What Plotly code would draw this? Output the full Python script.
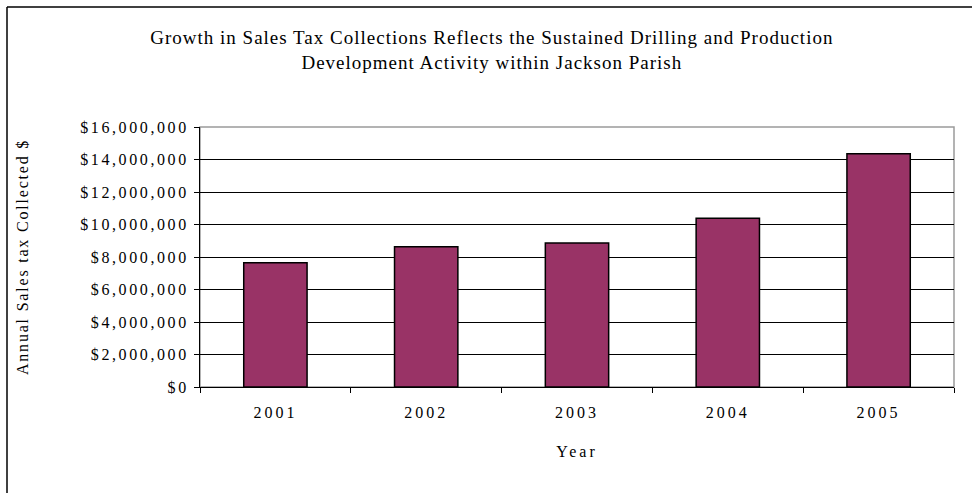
import plotly.graph_objects as go

years = ["2001", "2002", "2003", "2004", "2005"]
sales_tax = [7650000, 8630000, 8860000, 10380000, 14360000]
y_ticks = [0, 2000000, 4000000, 6000000, 8000000, 10000000, 12000000, 14000000, 16000000]

title_text = ("Growth in Sales Tax Collections Reflects the Sustained Drilling and Production"
              "<br>Development Activity within Jackson Parish")

W, H = 972, 493
L, R, T, B = 200, 18, 127, 106
pw, ph = W - L - R, H - T - B

def px_x(x):
    return (x - L) / pw

def px_y(y):
    return (H - B - y) / ph

FONT = "Liberation Serif, Times New Roman, serif"

fig = go.Figure(go.Bar(
    x=years, y=sales_tax,
    marker=dict(color="#993366", line=dict(color="#000000", width=1.5)),
    hovertemplate="%{x}: $%{y:,.0f}<extra></extra>",
))

fig.update_layout(
    width=W, height=H,
    margin=dict(l=L, r=R, t=T, b=B, pad=0),
    paper_bgcolor="white", plot_bgcolor="white",
    font=dict(family=FONT, size=16, color="black"),
    showlegend=False,
    bargap=0.58,
    title=dict(text=title_text, x=0.506, xanchor="center", y=1 - 44 / H, yanchor="middle",
               font=dict(family=FONT, size=19, color="black")),
    xaxis=dict(
        type="category", showline=True, linecolor="black", linewidth=1,
        ticks="outside", ticklen=5, tickcolor="black", tickson="boundaries",
        tickfont=dict(size=16), showgrid=False, ticklabelstandoff=11,
        title=dict(text="Year", font=dict(size=16), standoff=25),
    ),
    yaxis=dict(
        range=[0, 16000000], tickvals=y_ticks, tickformat="$,.0f",
        showline=True, linecolor="black", linewidth=1,
        ticks="outside", ticklen=5, tickcolor="black",
        showgrid=True, gridcolor="black", gridwidth=1, zeroline=False,
        tickfont=dict(size=16), ticklabelstandoff=2,
        title=dict(text="Annual Sales tax Collected $", font=dict(size=16), standoff=76),
    ),
    shapes=[
        dict(type="rect", xref="paper", yref="paper", x0=0, x1=1, y0=0, y1=1,
             line=dict(color="#9a9a9a", width=1.5), layer="below"),
        dict(type="line", xref="paper", yref="paper", x0=px_x(7), x1=px_x(7),
             y0=px_y(7), y1=px_y(H + 5), line=dict(color="black", width=1.5)),
        dict(type="line", xref="paper", yref="paper", x0=px_x(7), x1=px_x(W + 5),
             y0=px_y(7), y1=px_y(7), line=dict(color="black", width=1.5)),
    ],
)

# Widen character spacing of the text to mimic the original's spread-out serif lettering.
post_js = """
var gd = document.getElementById('{plot_id}');
function sp(sel, v) {
  gd.querySelectorAll(sel).forEach(function (e) { e.style.letterSpacing = v; });
}
sp('.gtitle', '1px');
sp('.ytick text', '2.6px');
sp('.xtick text', '3px');
sp('.xtitle', '3px');
sp('.ytitle', '1.8px');
"""

fig.write_html("out.html", post_script=post_js)
